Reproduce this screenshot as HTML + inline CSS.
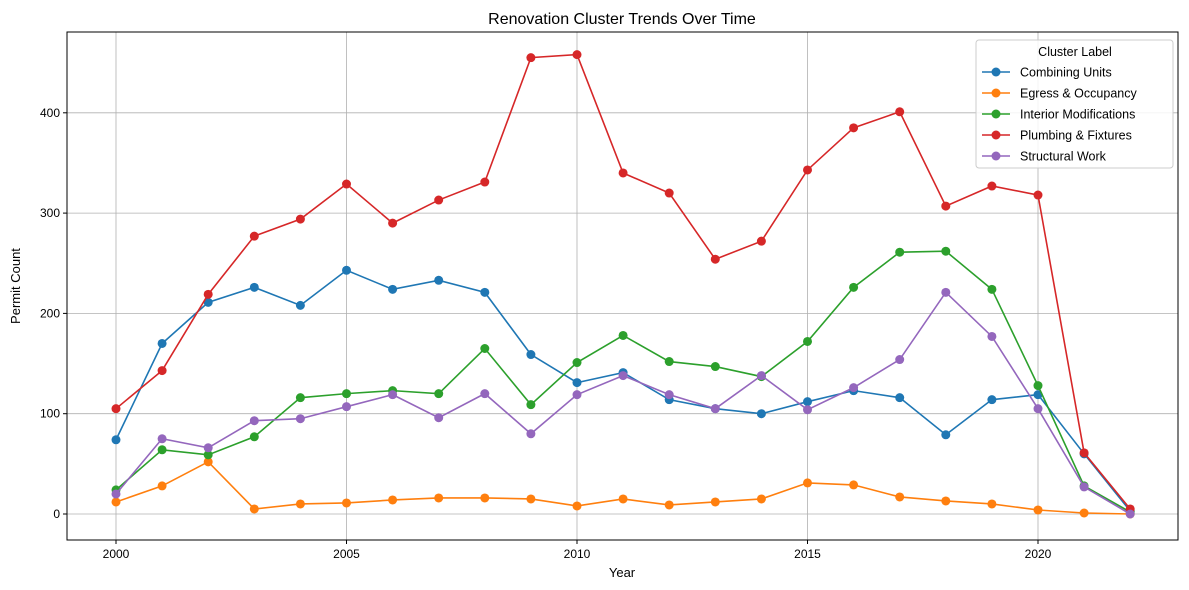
<!DOCTYPE html>
<html><head><meta charset="utf-8"><style>
body{margin:0;background:#fff;}
svg{display:block;font-family:"Liberation Sans","DejaVu Sans",sans-serif;}
</style></head><body>
<svg id="chart" width="1189" height="590">
<rect width="1189" height="590" fill="#fff"/>
<text x="622" y="24" text-anchor="middle" font-size="16">Renovation Cluster Trends Over Time</text>
<g id="grid"></g>
<g id="series"></g>
<rect x="67" y="32" width="1111" height="508" fill="none" stroke="#000" stroke-width="1"/>
<g id="axes"></g>
<text x="622" y="577" text-anchor="middle" font-size="13">Year</text>
<text transform="translate(20,286) rotate(-90)" text-anchor="middle" font-size="13">Permit Count</text>
<g id="legend"></g>
</svg>
<script>
const years=[2000,2001,2002,2003,2004,2005,2006,2007,2008,2009,2010,2011,2012,2013,2014,2015,2016,2017,2018,2019,2020,2021,2022];
const seriesNames=["Combining Units","Egress & Occupancy","Interior Modifications","Plumbing & Fixtures","Structural Work"];
const combiningUnits=[74,170,211,226,208,243,224,233,221,159,131,141,114,105,100,112,123,116,79,114,119,60,3];
const egressOccupancy=[12,28,52,5,10,11,14,16,16,15,8,15,9,12,15,31,29,17,13,10,4,1,0];
const interiorMods=[24,64,59,77,116,120,123,120,165,109,151,178,152,147,137,172,226,261,262,224,128,28,2];
const plumbingFixtures=[105,143,219,277,294,329,290,313,331,455,458,340,320,254,272,343,385,401,307,327,318,61,5];
const structuralWork=[20,75,66,93,95,107,119,96,120,80,119,138,119,105,138,104,126,154,221,177,105,27,0];
const xTicks=[2000,2005,2010,2015,2020];
const yTicks=[0,100,200,300,400];
const colors=["#1f77b4","#ff7f0e","#2ca02c","#d62728","#9467bd"];
const allSeries=[combiningUnits,egressOccupancy,interiorMods,plumbingFixtures,structuralWork];
const NS="http://www.w3.org/2000/svg";
const xs=y=>116+(y-2000)*46.1;
const ys=v=>514-v*1.003;
function mk(tag,attrs,parent){const e=document.createElementNS(NS,tag);for(const k in attrs)e.setAttribute(k,attrs[k]);parent.appendChild(e);return e;}
const grid=document.getElementById('grid'),axes=document.getElementById('axes'),ser=document.getElementById('series'),leg=document.getElementById('legend');
xTicks.forEach(t=>{
 const g=mk('line',{x1:xs(t),x2:xs(t),y1:32,y2:540,stroke:'#b0b0b0','stroke-width':0.8},grid);
 
 
 mk('line',{x1:xs(t),x2:xs(t),y1:540,y2:544,stroke:'#000'},axes);
 const tx=mk('text',{x:xs(t),y:558,'text-anchor':'middle','font-size':12},axes);tx.textContent=t;
 
 
});
yTicks.forEach(t=>{
 const g=mk('line',{x1:67,x2:1178,y1:ys(t),y2:ys(t),stroke:'#b0b0b0','stroke-width':0.8},grid);
 
 
 mk('line',{x1:63,x2:67,y1:ys(t),y2:ys(t),stroke:'#000'},axes);
 const tx=mk('text',{x:60,y:ys(t)+4,'text-anchor':'end','font-size':12},axes);tx.textContent=t;
 
 
});
allSeries.forEach((d,i)=>{
 const g=mk('g',{},ser);
 
 
 mk('polyline',{points:d.map((v,j)=>xs(years[j])+','+ys(v)).join(' '),fill:'none',stroke:colors[i],'stroke-width':1.6},g);
 d.forEach((v,j)=>{const c=mk('circle',{cx:xs(years[j]),cy:ys(v),r:4.5,fill:colors[i]},g);
  
  });
});
mk('rect',{x:976,y:40,width:197,height:128,rx:3,fill:'#fff','fill-opacity':0.85,stroke:'#ccc'},leg);
const lt=mk('text',{x:1075,y:56,'text-anchor':'middle','font-size':12.5},leg);lt.textContent='Cluster Label';


seriesNames.forEach((n,i)=>{
 const y=72+i*21;
 const g=mk('g',{},leg);
 
 
 mk('line',{x1:982,x2:1010,y1:y,y2:y,stroke:colors[i],'stroke-width':1.6},g);
 mk('circle',{cx:996,cy:y,r:4.5,fill:colors[i]},g);
 const t=mk('text',{x:1020,y:y+4.5,'font-size':12.5},g);t.textContent=n;
});
</script>
</body></html>
